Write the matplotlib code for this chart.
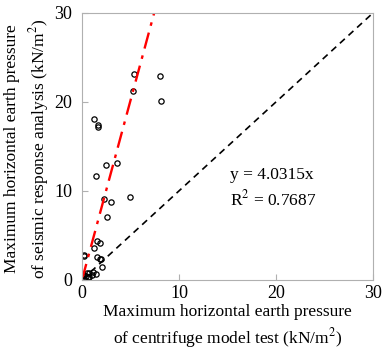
import numpy as np
import matplotlib.pyplot as plt

plt.rcParams['font.family'] = ['Liberation Serif', 'DejaVu Serif']
plt.rcParams['mathtext.fontset'] = 'stix'

# centrifuge model test (x) vs seismic response analysis (y), kN/m2
x_test = [5.4, 8.0, 5.3, 8.1, 1.2, 1.7, 1.7, 2.5, 3.6, 1.4, 4.9, 2.3, 3.0, 2.6,
          1.55, 1.9, 1.25, 0.2, 0.2, 1.6, 1.9, 2.0, 2.05,
          0.0, 0.25, 0.5, 0.75, 0.75, 1.0, 1.4, 0.4, 0.15, 0.6, 1.1]
y_anal = [23.1, 22.9, 21.2, 20.1, 18.05, 17.45, 17.2, 12.9, 13.15, 11.7, 9.3, 9.1, 8.7, 7.1,
          4.4, 4.2, 3.6, 2.8, 2.65, 2.6, 2.3, 2.3, 1.5,
          0.2, 0.6, 0.75, 0.75, 0.3, 0.6, 0.65, 0.4, 0.5, 0.35, 0.9]
slope = 4.0315
r2 = 0.7687

fig = plt.figure(figsize=(3.83, 3.49), dpi=100)
ax = fig.add_axes([0.214, 0.198, 0.760, 0.765])

ax.plot(x_test, y_anal, 'o', mfc='none', mec='black', ms=3.8, mew=0.9)

xr = np.array([0, 30 / slope])
ax.plot(xr, slope * xr, color='red', linestyle='-.', linewidth=1.7, dashes=(7, 3, 1.5, 3))
ax.plot([0, 30], [0, 30], color='black', linestyle='--', linewidth=1.2, dashes=(4, 3))

ax.text(15.3, 11.8, 'y = 4.0315x', fontsize=12.5, ha='left', va='center')
ax.text(15.3, 9.0, 'R$^2$ = %.4f' % r2, fontsize=12.5, ha='left', va='center')

ax.set_xlim(0, 30)
ax.set_ylim(0, 30)
ax.set_xticks([0, 10, 20, 30])
ax.set_yticks([0, 10, 20, 30])
ax.tick_params(direction='in', length=4, color='#b0b0b0', labelsize=13, pad=7)
ax.tick_params(axis='x', pad=4)
for s in ax.spines.values():
    s.set_color('#b0b0b0')

ax.set_xlabel('Maximum horizontal earth pressure\nof centrifuge model test (kN/m$^2$)',
              fontsize=12.5, linespacing=1.35)
ax.xaxis.set_label_coords(0.5, -0.09)
ax.set_ylabel('Maximum horizontal earth pressure\nof seismic response analysis (kN/m$^2$)',
              fontsize=12.5, linespacing=1.4)
ax.yaxis.set_label_coords(-0.105, 0.49)

fig.savefig('out.png', dpi=100)
